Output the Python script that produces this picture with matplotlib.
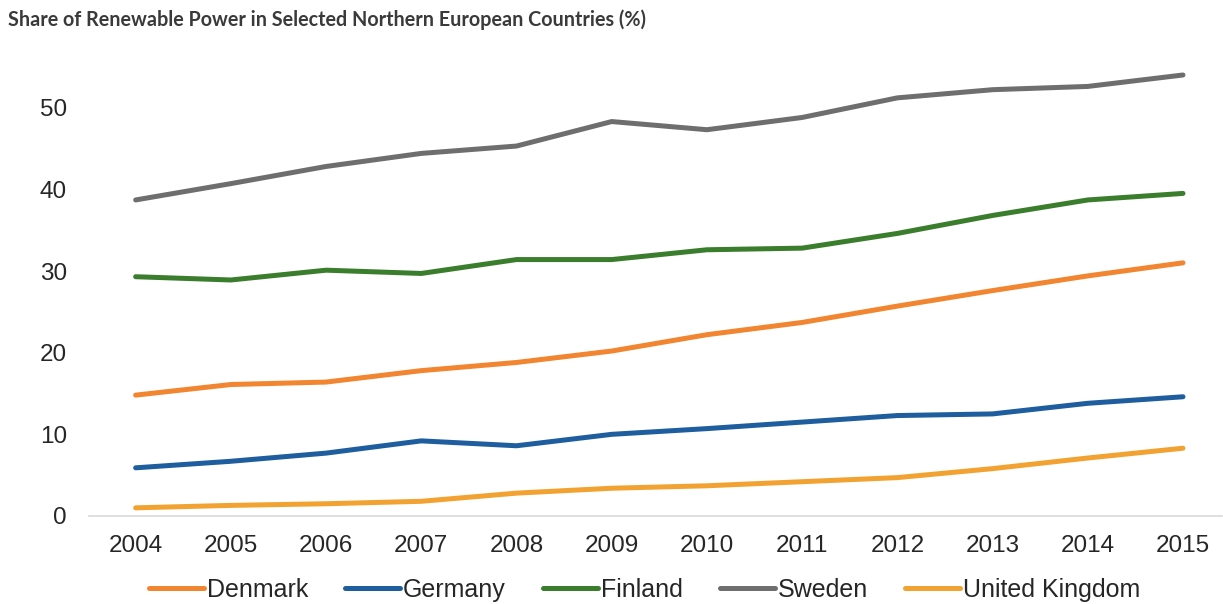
import matplotlib
matplotlib.use("Agg")
import matplotlib.pyplot as plt

# data
years = [2004, 2005, 2006, 2007, 2008, 2009, 2010, 2011, 2012, 2013, 2014, 2015]
denmark = [14.8, 16.1, 16.4, 17.8, 18.8, 20.2, 22.2, 23.7, 25.7, 27.6, 29.4, 31.0]
germany = [5.9, 6.7, 7.7, 9.2, 8.6, 10.0, 10.7, 11.5, 12.3, 12.5, 13.8, 14.6]
finland = [29.3, 28.9, 30.1, 29.7, 31.4, 31.4, 32.6, 32.8, 34.6, 36.8, 38.7, 39.5]
sweden = [38.7, 40.7, 42.8, 44.4, 45.3, 48.3, 47.3, 48.8, 51.2, 52.2, 52.6, 54.0]
uk = [1.0, 1.3, 1.5, 1.8, 2.8, 3.4, 3.7, 4.2, 4.7, 5.8, 7.1, 8.3]

names = ["Denmark", "Germany", "Finland", "Sweden", "United Kingdom"]
series = [denmark, germany, finland, sweden, uk]
colors = ["#F28530", "#1E5D9E", "#3A7D2C", "#6E6E6E", "#F2A231"]

plt.rcParams["font.family"] = ["Liberation Sans", "DejaVu Sans"]

fig = plt.figure(figsize=(12.23, 6.04), dpi=100)
ax = fig.add_axes([89 / 1223, 88 / 604, (1222 - 89) / 1223, (516 - 26) / 604])

for name, vals, c in zip(names, series, colors):
    ax.plot(years, vals, color=c, lw=3.6, label=name, solid_capstyle="round")

ax.set_xlim(2003.51, 2015.41)
ax.set_ylim(0, 60)
ax.set_xticks(years)
ax.set_yticks([0, 10, 20, 30, 40, 50])
ax.tick_params(axis="both", length=0, labelsize=17.5, colors="#262626")
ax.tick_params(axis="x", pad=14)
ax.tick_params(axis="y", pad=16)

for s in ["top", "right", "left"]:
    ax.spines[s].set_visible(False)
ax.spines["bottom"].set_color("#D9D9D9")
ax.spines["bottom"].set_linewidth(1.2)

fig.text(8 / 1223, 1 - 20 / 604,
         "Share of Renewable Power in Selected Northern European Countries (%)",
         fontsize=14.2, fontweight="bold", color="#3A3A3A", va="center",
         family=["Lato", "DejaVu Sans"])

fig.legend(loc="center", bbox_to_anchor=(0.527, 1 - 590 / 604), ncol=5,
           frameon=False, fontsize=18, handlelength=2.2, handletextpad=0.1,
           columnspacing=1.5, labelcolor="#262626")

fig.savefig("out.png", dpi=100, facecolor="white")
